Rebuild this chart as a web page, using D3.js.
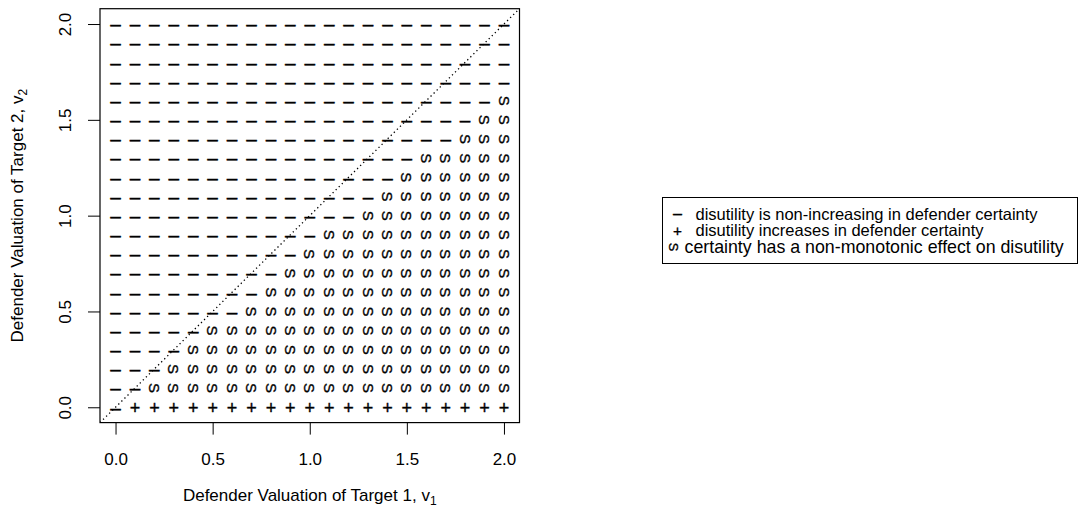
<!DOCTYPE html>
<html>
<head>
<meta charset="utf-8">
<script src="https://cdn.jsdelivr.net/npm/d3@7"></script>
<style>
  body { margin: 0; background: #fff; }
  svg { display: block; font-family: "Liberation Sans", Arial, sans-serif; }
</style>
</head>
<body>
<script>
// grid values of v1 (columns) and v2 (rows)
var v1Values = [0.0, 0.1, 0.2, 0.3, 0.4, 0.5, 0.6, 0.7, 0.8, 0.9, 1.0,
                1.1, 1.2, 1.3, 1.4, 1.5, 1.6, 1.7, 1.8, 1.9, 2.0];
var v2Values = [0.0, 0.1, 0.2, 0.3, 0.4, 0.5, 0.6, 0.7, 0.8, 0.9, 1.0,
                1.1, 1.2, 1.3, 1.4, 1.5, 1.6, 1.7, 1.8, 1.9, 2.0];
// one string per v2 row, one code per v1 column
// "-" non-increasing, "+" increases, "s" non-monotonic
var gridRows = [
  "-++++++++++++++++++++", // 0.0
  "--sssssssssssssssssss", // 0.1
  "---ssssssssssssssssss", // 0.2
  "----sssssssssssssssss", // 0.3
  "-----ssssssssssssssss", // 0.4
  "-------ssssssssssssss", // 0.5
  "--------sssssssssssss", // 0.6
  "---------ssssssssssss", // 0.7
  "----------sssssssssss", // 0.8
  "-----------ssssssssss", // 0.9
  "-------------ssssssss", // 1.0
  "--------------sssssss", // 1.1
  "---------------ssssss", // 1.2
  "----------------sssss", // 1.3
  "------------------sss", // 1.4
  "-------------------ss", // 1.5
  "--------------------s", // 1.6
  "---------------------", // 1.7
  "---------------------", // 1.8
  "---------------------", // 1.9
  "---------------------"  // 2.0
];
var tickValues = [0.0, 0.5, 1.0, 1.5, 2.0];
var legendCodes = ["-", "+", "s"];
var legendLabels = [
  "disutility is non-increasing in defender certainty",
  "disutility increases in defender certainty",
  "certainty has a non-monotonic effect on disutility"
];

/* layout */
var W = 1079, H = 520;
var box = { left: 100, right: 519.5, top: 8.7, bottom: 422.6 };

var x = d3.scaleLinear().domain([-0.08, 2.08]).range([box.left, box.right]);
var y = d3.scaleLinear().domain([-0.08, 2.08]).range([box.bottom, box.top]);

var svg = d3.select("body").append("svg")
  .attr("width", W)
  .attr("height", H);

// flatten grid into points
var points = [];
gridRows.forEach(function(row, i) {
  row.split("").forEach(function(c, j) {
    points.push({ v1: v1Values[j], v2: v2Values[i], code: c });
  });
});

// draw one plotting character; k scales it (1 = plot size)
function drawSymbol(g, code, k) {
  var t;
  if (code === "-") {
    t = g.append("text").text("\u2013")
      .attr("dy", "0.33em")
      .attr("font-size", 19 * k);
  } else if (code === "+") {
    t = g.append("text").text("+")
      .attr("dy", "0.36em")
      .attr("font-size", 18 * k);
  } else {
    t = g.append("text").text("S")
      .attr("dy", "0.36em")
      .attr("transform", "rotate(90)")
      .attr("font-size", 15 * k);
  }
  t.attr("text-anchor", "middle")
    .attr("stroke", "#000").attr("stroke-width", 0.35);
}

// clip for diagonal
svg.append("clipPath").attr("id", "plotclip")
  .append("rect")
  .attr("x", box.left).attr("y", box.top)
  .attr("width", box.right - box.left).attr("height", box.bottom - box.top);

// points
svg.append("g").selectAll("g.pt")
  .data(points)
  .enter().append("g")
  .attr("class", "pt")
  .attr("transform", function(d) { return "translate(" + x(d.v1) + "," + y(d.v2) + ")"; })
  .each(function(d) { drawSymbol(d3.select(this), d.code, 1); });

// diagonal v1 = v2 dotted
svg.append("line")
  .attr("clip-path", "url(#plotclip)")
  .attr("x1", x(-0.08)).attr("y1", y(-0.08))
  .attr("x2", x(2.08)).attr("y2", y(2.08))
  .attr("stroke", "#000").attr("stroke-width", 1.3)
  .attr("stroke-dasharray", "1.3,3");

// box
svg.append("rect")
  .attr("x", box.left).attr("y", box.top)
  .attr("width", box.right - box.left).attr("height", box.bottom - box.top)
  .attr("fill", "none").attr("stroke", "#000").attr("stroke-width", 1.2);

// axes
var fmt = d3.format(".1f");
var xAxis = svg.append("g")
  .attr("transform", "translate(0," + box.bottom + ")")
  .call(d3.axisBottom(x).tickValues(tickValues).tickFormat(fmt).tickSize(12).tickPadding(18));
var yAxis = svg.append("g")
  .attr("transform", "translate(" + box.left + ",0)")
  .call(d3.axisLeft(y).tickValues(tickValues).tickFormat(fmt).tickSize(12).tickPadding(22));
[xAxis, yAxis].forEach(function(a) {
  a.select(".domain").remove();
  a.selectAll(".tick line").attr("stroke", "#000");
  a.selectAll(".tick text")
    .attr("font-family", "Liberation Sans, Arial, sans-serif")
    .attr("font-size", 17).attr("fill", "#000");
});
yAxis.selectAll(".tick text")
  .attr("x", null).attr("dy", null)
  .attr("text-anchor", "middle")
  .attr("transform", "translate(-29,0) rotate(-90)");

// axis titles
var xt = svg.append("text")
  .attr("x", (box.left + box.right) / 2).attr("y", 501)
  .attr("text-anchor", "middle").attr("font-size", 17);
xt.append("tspan").text("Defender Valuation of Target 1, v");
xt.append("tspan").text("1").attr("font-size", 12).attr("dy", 4);

var yt = svg.append("text")
  .attr("transform", "translate(23," + ((box.top + box.bottom) / 2) + ") rotate(-90)")
  .attr("text-anchor", "middle").attr("font-size", 17);
yt.append("tspan").text("Defender Valuation of Target 2, v");
yt.append("tspan").text("2").attr("font-size", 12).attr("dy", 4);

// legend
var lg = svg.append("g").attr("transform", "translate(662.5,197.5)");
lg.append("rect")
  .attr("width", 415).attr("height", 66)
  .attr("fill", "#fff").attr("stroke", "#000").attr("stroke-width", 1);
// the third entry sits a little further left and is a little wider
var legSymX = [15, 15, 11];
var legTextX = [33, 33, 22];
var legFont = [16.5, 16.5, 17.8];
legendLabels.forEach(function(label, i) {
  var row = lg.append("g").attr("transform", "translate(0," + (16.5 + i * 16.5) + ")");
  var sym = row.append("g").attr("transform", "translate(" + legSymX[i] + ",0)");
  drawSymbol(sym, legendCodes[i], 0.85);
  row.append("text").text(label)
    .attr("x", legTextX[i]).attr("dy", "0.35em")
    .attr("font-size", legFont[i]);
});
</script>
</body>
</html>
